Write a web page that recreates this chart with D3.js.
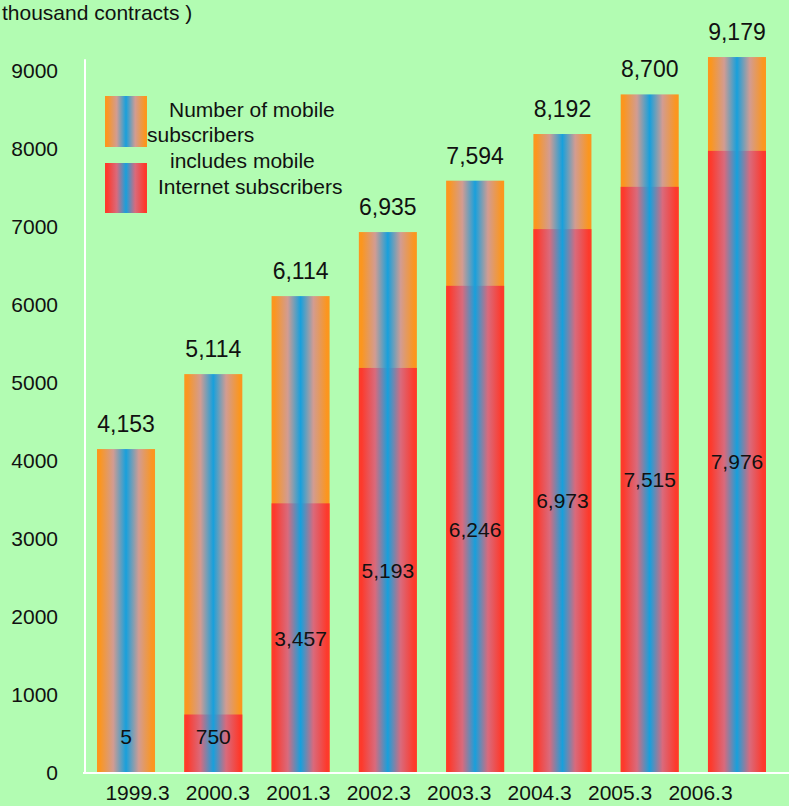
<!DOCTYPE html>
<html>
<head>
<meta charset="utf-8">
<script src="https://cdn.jsdelivr.net/npm/d3@7"></script>
<style>
  body { margin: 0; background: #b2fcb2; }
  svg { display: block; font-family: "Liberation Sans", Arial, sans-serif; }
</style>
</head>
<body>
<div class="graph"></div>
<script>
// chart data (thousand contracts)
var periods = ["1999.3", "2000.3", "2001.3", "2002.3", "2003.3", "2004.3", "2005.3", "2006.3"];
var mobileSubscribers = [4153, 5114, 6114, 6935, 7594, 8192, 8700, 9179];
var internetSubscribers = [5, 750, 3457, 5193, 6246, 6973, 7515, 7976];
var yTicks = [0, 1000, 2000, 3000, 4000, 5000, 6000, 7000, 8000, 9000];
var legendLabels = [["Number of mobile", "subscribers"], ["includes mobile", "Internet subscribers"]];

var width = 789, height = 806;
var fmt = d3.format(",");

var svg = d3.select(".graph").append("svg")
    .attr("width", width)
    .attr("height", height);

svg.append("rect")
    .attr("width", width)
    .attr("height", height)
    .attr("fill", "#b2fcb2");

// gradients: edge colour -> blue in the middle -> edge colour
var defs = svg.append("defs");
function makeGradient(id, edge, mid) {
  var g = defs.append("linearGradient")
      .attr("id", id)
      .attr("x1", "0").attr("x2", "1").attr("y1", "0").attr("y2", "0");
  var stops = [[0, edge], [0.05, edge], [0.28, mid], [0.5, "#17a0dc"], [0.72, mid], [0.95, edge], [1, edge]];
  stops.forEach(function(s) {
    g.append("stop").attr("offset", s[0]).attr("stop-color", s[1]);
  });
}
makeGradient("gradOrange", "#fb961f", "#d29c92");
makeGradient("gradRed", "#fd3a2c", "#d96a7c");

// scales
var y = d3.scaleLinear().domain([0, 9000]).range([773, 71]);
var x = d3.scaleBand().domain(periods).range([97, 766]).paddingInner(0.335).paddingOuter(0);
var xLabel = d3.scalePoint().domain(periods).range([137, 700]);

// axes lines (white)
svg.append("line")
    .attr("x1", 85).attr("x2", 85)
    .attr("y1", y(9150)).attr("y2", y(0))
    .attr("stroke", "white").attr("stroke-width", 2);
svg.append("line")
    .attr("x1", 83).attr("x2", width)
    .attr("y1", y(0)).attr("y2", y(0))
    .attr("stroke", "white").attr("stroke-width", 2);

// y axis labels
var yAxis = svg.append("g")
    .attr("transform", "translate(85,0)")
    .call(d3.axisLeft(y).tickValues(yTicks).tickSize(0).tickPadding(27).tickFormat(d3.format("d")));
yAxis.select(".domain").remove();
yAxis.selectAll("text")
    .attr("font-size", 21)
    .attr("font-family", "Liberation Sans, Arial, sans-serif")
    .attr("fill", "#111");

// x axis labels
var xAxis = svg.append("g")
    .attr("transform", "translate(0," + y(0) + ")")
    .call(d3.axisBottom(xLabel).tickSize(0).tickPadding(12));
xAxis.select(".domain").remove();
xAxis.selectAll("text")
    .attr("font-size", 21)
    .attr("font-family", "Liberation Sans, Arial, sans-serif")
    .attr("fill", "#111");

// total bars
svg.append("g").selectAll("rect")
  .data(periods)
  .enter().append("rect")
    .attr("x", function(d) { return x(d); })
    .attr("width", x.bandwidth())
    .attr("y", function(d, i) { return y(mobileSubscribers[i]); })
    .attr("height", function(d, i) { return y(0) - 1 - y(mobileSubscribers[i]); })
    .attr("fill", "url(#gradOrange)");

// internet bars
svg.append("g").selectAll("rect")
  .data(periods)
  .enter().append("rect")
    .attr("x", function(d) { return x(d); })
    .attr("width", x.bandwidth())
    .attr("y", function(d, i) { return y(internetSubscribers[i]); })
    .attr("height", function(d, i) { return y(0) - 1 - y(internetSubscribers[i]); })
    .attr("fill", "url(#gradRed)");

// total labels
svg.append("g").selectAll("text")
  .data(periods)
  .enter().append("text")
    .attr("x", function(d) { return x(d) + x.bandwidth() / 2; })
    .attr("y", function(d, i) { return y(mobileSubscribers[i]) - 17; })
    .attr("text-anchor", "middle")
    .attr("font-size", 23)
    .attr("fill", "#111")
    .text(function(d, i) { return fmt(mobileSubscribers[i]); });

// internet labels, in the middle of the red bar
svg.append("g").selectAll("text")
  .data(periods)
  .enter().append("text")
    .attr("x", function(d) { return x(d) + x.bandwidth() / 2; })
    .attr("y", function(d, i) { return Math.min(y(internetSubscribers[i] / 2), y(0) - 36); })
    .attr("dy", "0.35em")
    .attr("text-anchor", "middle")
    .attr("font-size", 21)
    .attr("fill", "#111")
    .text(function(d, i) { return fmt(internetSubscribers[i]); });

// unit label
svg.append("text")
    .attr("x", 2).attr("y", 20)
    .attr("font-size", 21)
    .attr("fill", "#111")
    .text("thousand contracts )");

// legend
var legend = svg.append("g");
legend.append("rect").attr("x", 105).attr("y", 96).attr("width", 42).attr("height", 51).attr("fill", "url(#gradOrange)");
legend.append("rect").attr("x", 105).attr("y", 163).attr("width", 42).attr("height", 50).attr("fill", "url(#gradRed)");
var legendText = [[169, 117, legendLabels[0][0]], [147, 142, legendLabels[0][1]],
                  [170, 168, legendLabels[1][0]], [158, 194, legendLabels[1][1]]];
legend.selectAll("text")
  .data(legendText)
  .enter().append("text")
    .attr("x", function(d) { return d[0]; })
    .attr("y", function(d) { return d[1]; })
    .attr("font-size", 21)
    .attr("fill", "#111")
    .text(function(d) { return d[2]; });
</script>
</body>
</html>
